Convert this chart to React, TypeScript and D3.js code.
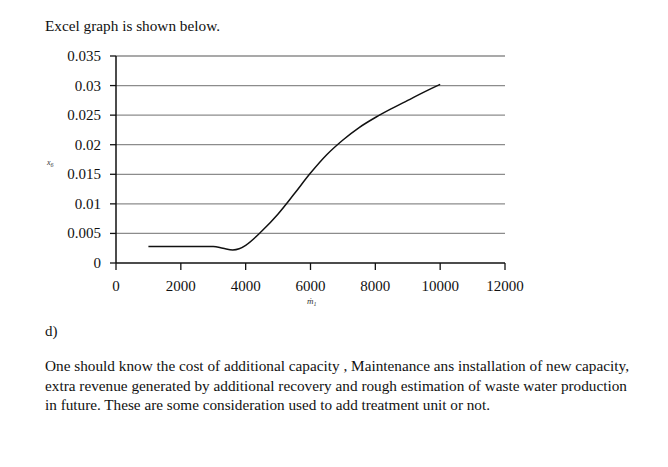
import React from "react";
import * as d3 from "d3";

const xTicks = [0, 2000, 4000, 6000, 8000, 10000, 12000];
const yTicks = [0, 0.005, 0.01, 0.015, 0.02, 0.025, 0.03, 0.035];
const yTickLabels = ["0", "0.005", "0.01", "0.015", "0.02", "0.025", "0.03", "0.035"];
const mdot = [1000, 2000, 3000, 3300, 3600, 3800, 4000, 4500, 5000, 5500, 6000, 6500, 7000, 7500, 8000, 8500, 9000, 9500, 10000];
const x6 = [0.0028, 0.0028, 0.0028, 0.0025, 0.0022, 0.0024, 0.003, 0.0054, 0.0083, 0.0117, 0.0152, 0.0183, 0.0208, 0.0229, 0.0246, 0.0261, 0.0275, 0.0289, 0.0302];
const paragraph = [
  "One should know the cost of additional capacity , Maintenance ans installation of new capacity,",
  "extra revenue generated by additional recovery and rough estimation of waste water production",
  "in future. These are some consideration used to add treatment unit or not.",
];

export default function App() {
  const x = d3.scaleLinear().domain([0, 12000]).range([116, 505]);
  const y = d3.scaleLinear().domain([0, 0.035]).range([263, 56]);
  const line = d3
    .line<number>()
    .x((_, i) => x(mdot[i]))
    .y((d) => y(d))
    .curve(d3.curveMonotoneX);
  const font = "'Liberation Serif', 'Times New Roman', serif";
  return (
    <svg
      width={668}
      height={467}
      style={{ position: "absolute", left: 0, top: 0, background: "#fff" }}
      fontFamily={font}
    >
      <rect width={668} height={467} fill="#fff" />
      <text x={45} y={31} fontSize={15} fill="#111" textLength={175} lengthAdjust="spacingAndGlyphs">Excel graph is shown below.</text>
      {yTicks.map((t, i) =>
        t === 0 ? null : (
          <line key={"g" + i} x1={116} x2={505} y1={y(t)} y2={y(t)} stroke="#8c8c8c" strokeWidth={1.3} />
        )
      )}
      {yTicks.map((t, i) => (
        <g key={"yt" + i}>
          <line x1={110} x2={116} y1={y(t)} y2={y(t)} stroke="#111" strokeWidth={1.3} />
          <text x={101} y={y(t) + 5} fontSize={15} textAnchor="end" fill="#111">{yTickLabels[i]}</text>
        </g>
      ))}
      <line x1={116} x2={116} y1={56} y2={263} stroke="#111" strokeWidth={1.5} />
      <line x1={116} x2={505} y1={263} y2={263} stroke="#111" strokeWidth={1.5} />
      {xTicks.map((t, i) => (
        <g key={"xt" + i}>
          <line x1={x(t)} x2={x(t)} y1={263} y2={270} stroke="#111" strokeWidth={1.3} />
          <text x={x(t)} y={291} fontSize={15} textAnchor="middle" fill="#111">{t}</text>
        </g>
      ))}
      <path d={line(x6) || ""} fill="none" stroke="#111" strokeWidth={1.5} />
      <text x={47} y={165} fontSize={8} fontStyle="italic" fill="#333">x<tspan fontSize={6} dy={2}>6</tspan></text>
      <text x={307} y={304} fontSize={9} fontStyle="italic" fill="#333">ṁ<tspan fontSize={6} dy={2}>1</tspan></text>
      <text x={45} y={336} fontSize={15} fill="#111">d)</text>
      {paragraph.map((s, i) => (
        <text key={"p" + i} x={45} y={371 + i * 19.5} fontSize={15} fill="#111" textLength={i === 0 ? 584 : i === 1 ? 582 : 445} lengthAdjust="spacingAndGlyphs">{s}</text>
      ))}
    </svg>
  );
}
